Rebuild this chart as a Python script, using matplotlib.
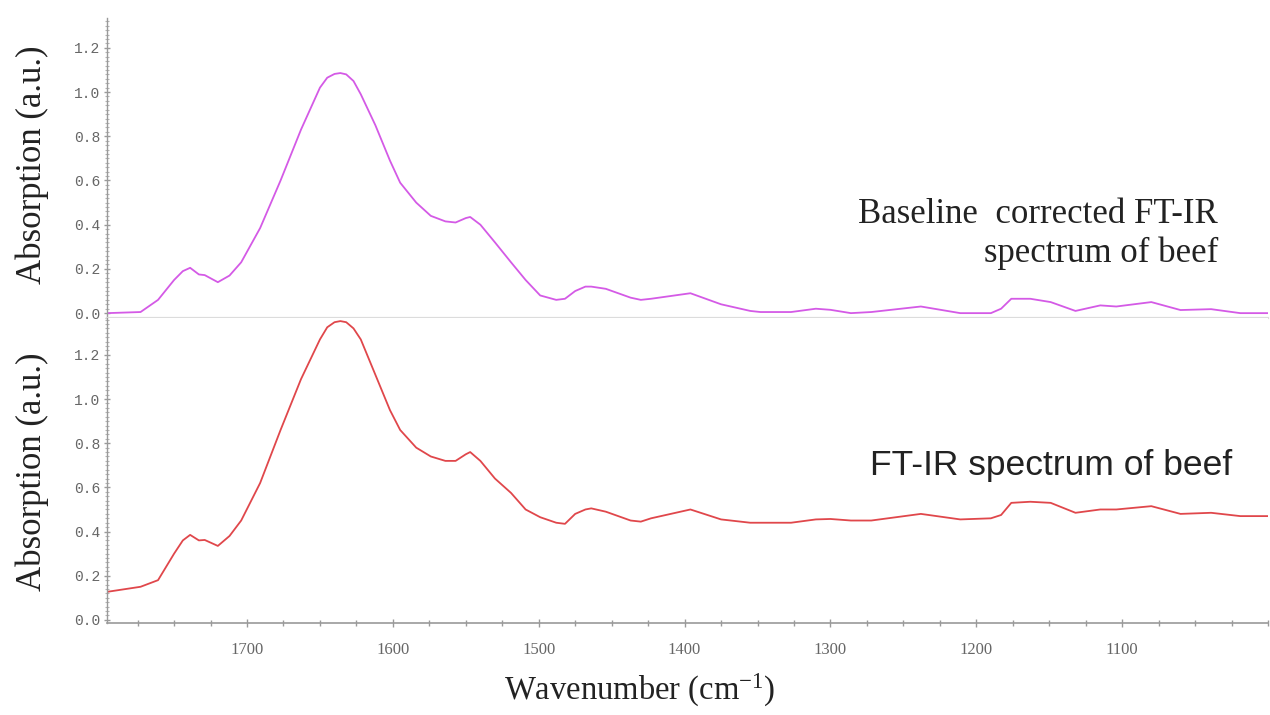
import matplotlib
matplotlib.use("Agg")
import matplotlib.pyplot as plt
from matplotlib.ticker import MultipleLocator, FixedLocator

# ---------------- data ----------------
wavenumber = [1796, 1773, 1761, 1750, 1744, 1739, 1733, 1729, 1720, 1712,
              1704, 1691, 1677, 1663, 1650, 1645, 1640, 1636, 1632, 1627,
              1622, 1612, 1602, 1595, 1584, 1574, 1564, 1557, 1550, 1547,
              1540, 1530, 1519, 1509, 1499, 1488, 1482, 1475, 1468, 1464,
              1454, 1437, 1430, 1423, 1396, 1375, 1355, 1348, 1327, 1310,
              1300, 1286, 1272, 1238, 1211, 1190, 1183, 1176, 1163, 1149,
              1132, 1115, 1104, 1080, 1060, 1039, 1019, 1000]

baseline_corrected = [0.0, 0.005, 0.06, 0.15, 0.19, 0.205, 0.175, 0.172, 0.14, 0.17,
                      0.23, 0.385, 0.60, 0.83, 1.02, 1.065, 1.082, 1.086, 1.08, 1.05,
                      0.99, 0.85, 0.69, 0.59, 0.50, 0.44, 0.415, 0.41, 0.43, 0.435,
                      0.40, 0.32, 0.23, 0.15, 0.08, 0.06, 0.065, 0.10, 0.12, 0.12,
                      0.11, 0.07, 0.06, 0.065, 0.09, 0.04, 0.01, 0.005, 0.005, 0.02,
                      0.015, 0.0, 0.005, 0.03, 0.0, 0.0, 0.02, 0.065, 0.065, 0.05,
                      0.01, 0.035, 0.03, 0.05, 0.014, 0.018, 0.0, 0.0]

raw_spectrum = [0.127, 0.15, 0.18, 0.30, 0.36, 0.385, 0.36, 0.362, 0.335, 0.38,
                0.45, 0.62, 0.86, 1.09, 1.27, 1.325, 1.348, 1.353, 1.348, 1.32,
                1.27, 1.11, 0.95, 0.86, 0.78, 0.74, 0.72, 0.72, 0.75, 0.76,
                0.72, 0.64, 0.575, 0.50, 0.465, 0.44, 0.435, 0.48, 0.50, 0.505,
                0.49, 0.45, 0.445, 0.46, 0.50, 0.455, 0.44, 0.44, 0.44, 0.455,
                0.457, 0.45, 0.45, 0.48, 0.455, 0.46, 0.475, 0.53, 0.535, 0.53,
                0.485, 0.50, 0.50, 0.515, 0.48, 0.485, 0.47, 0.47]

y_ticks = [0.0, 0.2, 0.4, 0.6, 0.8, 1.0, 1.2]
y_tick_labels = ["0.0", "0.2", "0.4", "0.6", "0.8", "1.0", "1.2"]
x_ticks = [1700, 1600, 1500, 1400, 1300, 1200, 1100]
x_tick_labels = ["1700", "1600", "1500", "1400", "1300", "1200", "1100"]

top_text = "Baseline  corrected FT-IR\nspectrum of beef"
bottom_text = "FT-IR spectrum of beef"
y_label = "Absorption (a.u.)"
x_label = "Wavenumber (cm$^{\\mathregular{-1}}$)"

# ---------------- figure ----------------
plt.rcParams["mathtext.default"] = "regular"
fig = plt.figure(figsize=(12.7, 7.15), dpi=100)

L, R = 107 / 1270, 1268 / 1270
top_b, top_t = 1 - 318 / 715, 1 - 18 / 715
bot_b, bot_t = 1 - 623 / 715, 1 - 318 / 715

ax_top = fig.add_axes([L, top_b, R - L, top_t - top_b])
ax_bot = fig.add_axes([L, bot_b, R - L, bot_t - bot_b])

axis_grey = "#9a9a9a"
label_grey = "#666666"

for ax in (ax_top, ax_bot):
    ax.set_xlim(1796, 1000)
    for s in ("top", "right"):
        ax.spines[s].set_visible(False)
    ax.spines["left"].set_color(axis_grey)
    ax.spines["left"].set_linewidth(1.0)
    ax.yaxis.set_major_locator(FixedLocator(y_ticks))
    ax.set_yticklabels(y_tick_labels, family="Liberation Mono", fontsize=10.5,
                       color=label_grey)
    ax.yaxis.set_minor_locator(MultipleLocator(0.02))
    ax.tick_params(axis="y", which="major", direction="inout", length=4,
                   width=1, color=axis_grey, pad=3)
    ax.tick_params(axis="y", which="minor", direction="inout", length=3,
                   width=0.8, color="#b5b5b5")

ax_top.plot(wavenumber, baseline_corrected, color="#d45ae6", lw=1.3,
            solid_joinstyle="round")
ax_bot.plot(wavenumber, raw_spectrum, color="#e0474b", lw=1.3,
            solid_joinstyle="round")

ax_top.set_ylim(-0.022, 1.335)
ax_bot.set_ylim(-0.014, 1.367)

# top panel: only a light separator line at bottom
ax_top.spines["bottom"].set_color("#dcdcdc")
ax_top.spines["bottom"].set_linewidth(1.6)
ax_top.set_xticks([])

# bottom panel x axis
ax_bot.spines["bottom"].set_color(axis_grey)
ax_bot.spines["bottom"].set_linewidth(1.2)
ax_bot.xaxis.set_major_locator(FixedLocator(x_ticks))
ax_bot.set_xticklabels(x_tick_labels, family="Liberation Serif", fontsize=12,
                       color=label_grey)
ax_bot.xaxis.set_minor_locator(MultipleLocator(25))
ax_bot.tick_params(axis="x", which="major", direction="inout", length=6,
                   width=1, color=axis_grey, pad=11)
ax_bot.tick_params(axis="x", which="minor", direction="inout", length=4,
                   width=1, color=axis_grey)

# annotations
fig.text(1218 / 1270, 1 - 234 / 715, top_text, ha="right", va="center",
         family="Liberation Serif", fontsize=25, color="#222222",
         linespacing=1.2)
fig.text(1232 / 1270, 1 - 466 / 715, bottom_text, ha="right", va="center",
         family="Liberation Sans", fontsize=25.5, color="#222222")

fig.text(32 / 1270, 1 - 165 / 715, y_label, rotation=90, ha="center",
         va="center", family="Liberation Serif", fontsize=25, color="#222222")
fig.text(32 / 1270, 1 - 472 / 715, y_label, rotation=90, ha="center",
         va="center", family="Liberation Serif", fontsize=25, color="#222222")
fig.text(640 / 1270, 1 - 690 / 715, x_label, ha="center", va="center",
         family="Liberation Serif", fontsize=23.5, color="#222222")

fig.savefig("out.png", dpi=100, facecolor="white")
